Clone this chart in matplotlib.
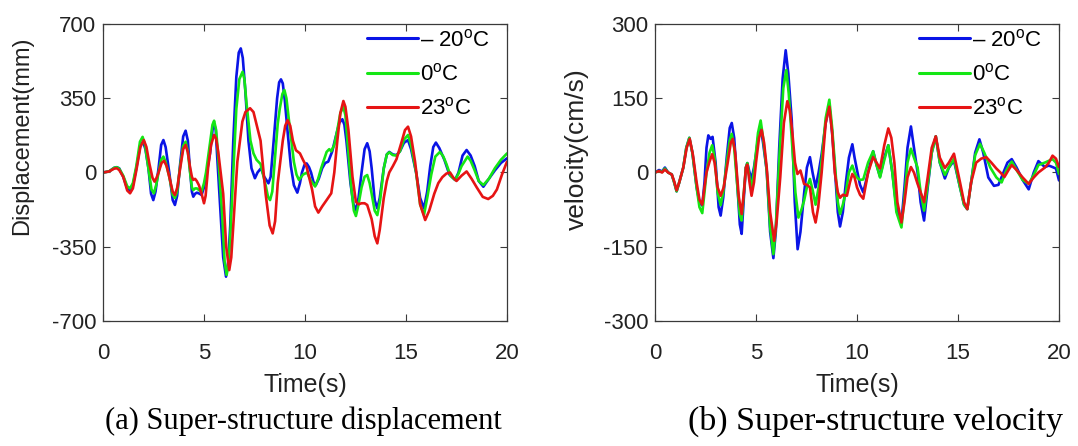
"""
上部结构位移/速度时程对比图 (-20°C / 0°C / 23°C)
"""

import matplotlib
matplotlib.use('Agg')
import matplotlib.pyplot as plt

# ==============================================================================
# 数据（从原图读取的曲线点）
# ==============================================================================

TEMPS = ['\u2013 20$^{\\rm o}$C', '0$^{\\rm o}$C', '23$^{\\rm o}$C']
COLORS = ['#0a14e6', '#14e614', '#e61414']

# --- (a) 位移 (mm) ---
disp_blue = [
    (0, 0), (0.3, 5), (0.55, 22), (0.68, 25), (0.8, 20), (1.0, -20), (1.2, -75), (1.34, -83),
    (1.48, -60), (1.65, 20), (1.85, 130), (1.98, 145), (2.1, 110), (2.25, 20), (2.38, -100),
    (2.49, -130), (2.6, -90), (2.75, 20), (2.88, 130), (2.99, 153), (3.1, 120), (3.28, 0),
    (3.45, -130), (3.56, -153), (3.67, -110), (3.82, 40), (3.97, 170), (4.09, 197), (4.2, 150),
    (4.3, 20), (4.4, -90), (4.47, -114), (4.56, -100), (4.65, -95), (4.78, -100), (4.88, -106),
    (5.0, -70), (5.1, -20), (5.3, 90), (5.42, 200), (5.5, 232), (5.58, 200), (5.65, 80),
    (5.8, -161), (5.95, -400), (6.09, -491), (6.2, -420), (6.3, -250), (6.45, 150), (6.6, 450),
    (6.72, 565), (6.82, 585), (6.92, 540), (7.05, 380), (7.2, 150), (7.35, 20), (7.52, -27),
    (7.65, 0), (7.82, 20), (7.98, -20), (8.19, -51), (8.3, -20), (8.45, 150), (8.62, 350),
    (8.72, 425), (8.81, 439), (8.9, 420), (9.0, 340), (9.15, 180), (9.3, 30), (9.45, -60),
    (9.62, -95), (9.75, -50), (9.85, 0), (9.97, 35), (10.08, 43), (10.2, 25), (10.3, 0),
    (10.42, -45), (10.54, -59), (10.68, -30), (10.85, 20), (11.0, 45), (11.15, 51), (11.35, 100),
    (11.5, 160), (11.7, 235), (11.85, 251), (11.95, 225), (12.05, 150), (12.25, -50),
    (12.4, -150), (12.52, -177), (12.65, -120), (12.8, 0), (12.95, 110), (13.08, 138),
    (13.2, 100), (13.3, 20), (13.45, -130), (13.58, -169), (13.7, -120), (13.9, 20), (14.05, 85),
    (14.17, 97), (14.35, 85), (14.53, 82), (14.7, 100), (14.9, 140), (15.1, 153), (15.25, 110),
    (15.5, 0), (15.7, -120), (15.89, -169), (16.05, -90), (16.2, 30), (16.35, 120), (16.48, 141),
    (16.65, 115), (16.9, 60), (17.15, -10), (17.43, -35), (17.6, 0), (17.8, 80), (18.0, 106),
    (18.2, 80), (18.4, 30), (18.6, -40), (18.83, -67), (19.1, -30), (19.4, 10), (19.7, 45),
    (20.0, 67)]

disp_green = [
    (0, 0), (0.3, 5), (0.55, 22), (0.68, 25), (0.8, 18), (1.0, -15), (1.2, -65), (1.34, -75),
    (1.48, -50), (1.65, 30), (1.83, 145), (1.96, 168), (2.08, 130), (2.25, 20), (2.4, -80),
    (2.52, -98), (2.63, -60), (2.75, 0), (2.88, 60), (2.99, 75), (3.1, 50), (3.28, -20),
    (3.45, -105), (3.56, -120), (3.67, -90), (3.82, 30), (3.97, 125), (4.09, 145), (4.2, 100),
    (4.3, 10), (4.4, -70), (4.47, -83), (4.56, -75), (4.65, -75), (4.78, -85), (4.88, -90),
    (5.0, -50), (5.1, 0), (5.3, 140), (5.42, 225), (5.5, 244), (5.6, 200), (5.7, 80),
    (5.9, -200), (6.02, -420), (6.12, -483), (6.22, -430), (6.3, -300), (6.45, 0), (6.6, 300),
    (6.75, 440), (6.91, 475), (7.0, 440), (7.1, 330), (7.3, 150), (7.45, 90), (7.6, 60),
    (7.8, 40), (8.05, -60), (8.17, -115), (8.27, -130), (8.38, -90), (8.5, 50), (8.65, 230),
    (8.75, 300), (8.88, 370), (8.98, 389), (9.08, 350), (9.2, 250), (9.45, 50), (9.58, -10),
    (9.7, -35), (9.9, -10), (10.1, 0), (10.3, -40), (10.5, -66), (10.65, -30), (10.8, 20),
    (11.07, 97), (11.2, 110), (11.3, 100), (11.45, 130), (11.6, 200), (11.75, 280), (11.9, 310),
    (12.0, 270), (12.1, 150), (12.3, -80), (12.42, -180), (12.52, -205), (12.65, -150),
    (12.8, -70), (12.95, -20), (13.08, -12), (13.2, -50), (13.3, -100), (13.45, -180),
    (13.58, -201), (13.72, -130), (13.9, 20), (14.05, 85), (14.17, 95), (14.35, 82), (14.53, 80),
    (14.7, 100), (14.9, 155), (15.1, 177), (15.25, 130), (15.5, 0), (15.7, -150), (15.89, -200),
    (16.05, -120), (16.25, -10), (16.45, 75), (16.68, 97), (16.85, 75), (17.0, 40), (17.2, -15),
    (17.43, -35), (17.6, -5), (17.75, 30), (18.05, 75), (18.2, 55), (18.4, 10), (18.6, -40),
    (18.83, -59), (19.1, -30), (19.4, 20), (19.7, 60), (20.0, 90)]

disp_red = [
    (0, 0), (0.3, 5), (0.55, 18), (0.68, 20), (0.8, 12), (1.0, -20), (1.2, -85), (1.34, -98),
    (1.48, -75), (1.65, 10), (1.85, 120), (2.02, 153), (2.15, 120), (2.3, 40), (2.45, -25),
    (2.55, -43), (2.65, -25), (2.75, 0), (2.9, 45), (3.02, 55), (3.15, 30), (3.28, -20),
    (3.45, -90), (3.56, -106), (3.68, -70), (3.82, 20), (3.97, 110), (4.09, 130), (4.2, 95),
    (4.3, 30), (4.4, -20), (4.47, -35), (4.56, -30), (4.64, -40), (4.75, -60), (4.88, -100),
    (5.0, -145), (5.08, -110), (5.2, 20), (5.35, 130), (5.5, 177), (5.6, 160), (5.7, 100),
    (5.95, -100), (6.1, -350), (6.25, -460), (6.35, -400), (6.45, -250), (6.65, 50), (6.9, 240),
    (7.05, 285), (7.28, 303), (7.45, 285), (7.6, 227), (7.8, 150), (8.05, -100), (8.25, -250),
    (8.4, -287), (8.52, -230), (8.65, -50), (8.9, 150), (9.02, 220), (9.14, 247), (9.27, 220),
    (9.4, 150), (9.55, 105), (9.75, 90), (9.9, 60), (10.08, 26), (10.35, -80), (10.5, -160),
    (10.66, -189), (10.85, -160), (11.07, -130), (11.3, -98), (11.45, 0), (11.6, 150),
    (11.75, 280), (11.9, 337), (12.0, 310), (12.15, 200), (12.35, -20), (12.52, -138),
    (12.65, -150), (12.8, -145), (12.95, -145), (13.08, -153), (13.3, -220), (13.45, -300),
    (13.58, -334), (13.7, -270), (13.9, -120), (14.05, -40), (14.17, 0), (14.35, 30),
    (14.53, 63), (14.8, 150), (14.95, 200), (15.1, 216), (15.25, 170), (15.45, 50),
    (15.7, -150), (15.95, -224), (16.15, -180), (16.4, -100), (16.6, -50), (16.8, -22),
    (17.0, -5), (17.18, 0), (17.35, -25), (17.5, -40), (17.75, -15), (18.0, 5), (18.25, -30),
    (18.5, -70), (18.8, -115), (19.07, -125), (19.3, -110), (19.5, -80), (19.75, -10),
    (20.0, 51)]

# --- (b) 速度 (cm/s) ---
vel_blue = [
    (0, 0), (0.2, 5), (0.35, 2), (0.49, 10), (0.65, 0), (0.83, -4), (0.95, -20), (1.07, -38),
    (1.2, -20), (1.4, 10), (1.55, 50), (1.7, 70), (1.85, 40), (2.06, -30), (2.2, -60),
    (2.34, -67), (2.45, -20), (2.55, 50), (2.64, 75), (2.75, 68), (2.85, 72), (3.0, 20),
    (3.15, -70), (3.25, -87), (3.38, -50), (3.55, 30), (3.7, 90), (3.8, 100), (3.92, 70),
    (4.1, -40), (4.2, -105), (4.29, -124), (4.4, -50), (4.5, 10), (4.57, 19), (4.68, 0),
    (4.78, -13), (4.9, 10), (5.0, 37), (5.12, 75), (5.23, 92), (5.35, 60), (5.53, 4),
    (5.7, -120), (5.86, -173), (5.98, -120), (6.15, 50), (6.32, 190), (6.47, 247), (6.6, 200),
    (6.77, 105), (6.92, -60), (7.06, -155), (7.2, -120), (7.38, -43), (7.52, 10), (7.67, 31),
    (7.8, 0), (7.95, -30), (8.1, 0), (8.25, 37), (8.45, 100), (8.63, 136), (8.77, 80),
    (8.9, 10), (9.05, -80), (9.16, -109), (9.3, -80), (9.45, -20), (9.6, 30), (9.77, 57),
    (9.88, 30), (10.0, 5), (10.15, -25), (10.31, -40), (10.55, 0), (10.8, 43), (10.97, 15),
    (11.14, -8), (11.35, 30), (11.55, 55), (11.75, 0), (11.95, -70), (12.2, -101), (12.35, -30),
    (12.5, 50), (12.67, 93), (12.82, 50), (13.0, 0), (13.15, -60), (13.32, -97), (13.5, -30),
    (13.7, 40), (13.9, 73), (14.1, 20), (14.35, -12), (14.55, 10), (14.8, 24), (15.1, -30),
    (15.3, -65), (15.46, -74), (15.65, -20), (15.85, 40), (16.06, 67), (16.25, 40), (16.5, -10),
    (16.78, -27), (17.0, -25), (17.2, -5), (17.45, 20), (17.66, 27), (17.9, 10), (18.2, -15),
    (18.5, -34), (18.75, 0), (18.98, 23), (19.3, 11), (19.5, 14), (19.68, 11), (19.85, 8),
    (20.0, -16)]

vel_green = [
    (0, 0), (0.2, 3), (0.35, 1), (0.49, 8), (0.65, 0), (0.83, -4), (0.95, -20), (1.07, -38),
    (1.2, -20), (1.4, 10), (1.55, 50), (1.7, 70), (1.85, 40), (2.06, -30), (2.2, -70),
    (2.34, -82), (2.45, -40), (2.55, 0), (2.7, 40), (2.83, 55), (2.95, 30), (3.1, -40),
    (3.25, -66), (3.38, -40), (3.55, 20), (3.7, 65), (3.8, 78), (3.92, 50), (4.1, -40),
    (4.2, -85), (4.29, -97), (4.4, -40), (4.5, 10), (4.57, 19), (4.68, -10), (4.78, -34),
    (4.92, 10), (5.1, 80), (5.23, 105), (5.35, 70), (5.53, 4), (5.7, -110), (5.86, -165),
    (5.98, -110), (6.17, 40), (6.35, 170), (6.5, 207), (6.62, 160), (6.8, 50), (6.95, -40),
    (7.1, -91), (7.25, -75), (7.38, -57), (7.52, -30), (7.67, -13), (7.8, -35), (7.95, -65),
    (8.1, -30), (8.25, 24), (8.45, 110), (8.63, 147), (8.77, 90), (8.9, 20), (9.05, -60),
    (9.16, -84), (9.3, -65), (9.45, -40), (9.6, 0), (9.77, 14), (9.88, 0), (10.0, -10),
    (10.15, -15), (10.31, -14), (10.55, 20), (10.8, 43), (10.97, 15), (11.14, -10), (11.35, 25),
    (11.55, 55), (11.75, 0), (11.95, -80), (12.2, -111), (12.35, -50), (12.5, 20), (12.67, 48),
    (12.82, 30), (13.0, 10), (13.15, -40), (13.32, -77), (13.5, -25), (13.7, 40), (13.9, 73),
    (14.1, 20), (14.35, -5), (14.55, 10), (14.8, 28), (15.1, -30), (15.3, -65), (15.46, -74),
    (15.65, -20), (15.85, 35), (16.09, 58), (16.3, 40), (16.6, 10), (16.9, -10), (17.16, -20),
    (17.4, 5), (17.66, 22), (17.9, 5), (18.2, -15), (18.5, -23), (18.75, -5), (18.98, 15),
    (19.3, 20), (19.68, 27), (19.85, 20), (20.0, -3)]

vel_red = [
    (0, 0), (0.2, 3), (0.35, 0), (0.49, 6), (0.65, 0), (0.83, -4), (0.95, -18), (1.07, -36),
    (1.2, -20), (1.4, 10), (1.57, 50), (1.72, 68), (1.88, 35), (2.06, -20), (2.2, -55),
    (2.34, -65), (2.45, -30), (2.55, 0), (2.7, 22), (2.83, 37), (2.95, 20), (3.1, -30),
    (3.25, -47), (3.4, -30), (3.6, 20), (3.75, 60), (3.85, 68), (3.97, 40), (4.15, -50),
    (4.29, -84), (4.4, -40), (4.5, 10), (4.57, 16), (4.68, -20), (4.78, -47), (4.9, -20),
    (5.0, 20), (5.15, 70), (5.28, 86), (5.4, 60), (5.53, 10), (5.7, -80), (5.9, -138),
    (6.02, -100), (6.2, -10), (6.38, 100), (6.55, 144), (6.68, 125), (6.8, 80), (6.93, 20),
    (7.05, -3), (7.2, 4), (7.38, -23), (7.52, -25), (7.67, -30), (7.82, -80), (7.95, -101),
    (8.08, -70), (8.25, 0), (8.45, 100), (8.63, 133), (8.77, 80), (8.9, 0), (9.05, -40),
    (9.16, -51), (9.3, -45), (9.5, -47), (9.65, -20), (9.77, -3), (9.88, -10), (10.0, -30),
    (10.15, -45), (10.31, -53), (10.55, 0), (10.8, 31), (10.97, 20), (11.14, 8), (11.35, 55),
    (11.55, 89), (11.7, 70), (11.85, 20), (12.0, -60), (12.2, -101), (12.35, -60), (12.5, -10),
    (12.67, 11), (12.82, 0), (13.0, -23), (13.15, -40), (13.32, -60), (13.5, -10), (13.7, 50),
    (13.9, 73), (14.1, 30), (14.35, 9), (14.55, 20), (14.8, 38), (15.1, -20), (15.3, -60),
    (15.46, -74), (15.65, -20), (15.9, 20), (16.15, 28), (16.4, 31), (16.65, 20), (16.9, 8),
    (17.1, 0), (17.3, -9), (17.5, 5), (17.66, 15), (17.9, 5), (18.2, -10), (18.5, -23),
    (18.75, -10), (18.98, 0), (19.3, 10), (19.5, 20), (19.68, 34), (19.85, 28), (20.0, 11)]

DISP_YTICKS = [-700, -350, 0, 350, 700]
VEL_YTICKS = [-300, -150, 0, 150, 300]
XTICKS = [0, 5, 10, 15, 20]

# ==============================================================================
# 绘图参数
# ==============================================================================
FIG_W, FIG_H, DPI = 10.78, 4.46, 100
LINE_W = 1.9
TICK_FS = 16
LEGEND_FS = 16
XLABEL_FS = 18
AX_COLOR = '#3a3a3a'


def setup_plot_style():
    matplotlib.rcParams['font.family'] = ['Liberation Sans', 'DejaVu Sans']
    matplotlib.rcParams['mathtext.fontset'] = 'custom'
    matplotlib.rcParams['mathtext.rm'] = 'Liberation Sans'
    matplotlib.rcParams['axes.linewidth'] = 0.9
    matplotlib.rcParams['axes.unicode_minus'] = False


def draw_panel(ax, series, yticks, ylabel, ylabel_fs, ylabel_xy):
    for pts, color, label in zip(series, COLORS, TEMPS):
        t = [p[0] for p in pts]
        v = [p[1] for p in pts]
        ax.plot(t, v, color=color, lw=LINE_W, label=label,
                solid_joinstyle='round', solid_capstyle='round')

    ax.set_xlim(0, 20)
    ax.set_ylim(yticks[0], yticks[-1])
    ax.set_xticks(XTICKS)
    ax.set_yticks(yticks)

    for spine in ax.spines.values():
        spine.set_color(AX_COLOR)

    ax.tick_params(axis='both', direction='in', top=True, right=True,
                   length=5, width=0.8, color=AX_COLOR, labelsize=TICK_FS,
                   labelcolor='#222222', pad=5)
    ax.tick_params(axis='x', pad=16)
    ax.set_xlabel('Time(s)', fontsize=XLABEL_FS, color='#222222', labelpad=6)
    ax.set_ylabel(ylabel, fontsize=ylabel_fs, color='#222222')
    ax.yaxis.set_label_coords(*ylabel_xy)

    leg = ax.legend(loc='upper right', frameon=False, fontsize=LEGEND_FS,
                    handlelength=2.3, handletextpad=0.1, labelspacing=0.55,
                    borderaxespad=0.1, bbox_to_anchor=(0.985, 1.02))
    for line in leg.get_lines():
        line.set_linewidth(2.2)


def main():
    setup_plot_style()
    fig = plt.figure(figsize=(FIG_W, FIG_H), dpi=DPI)

    ax1 = fig.add_axes([103 / 1078, 1 - 321 / 446, 404 / 1078, 297 / 446])
    ax2 = fig.add_axes([655 / 1078, 1 - 321 / 446, 404 / 1078, 297 / 446])

    draw_panel(ax1, [disp_blue, disp_green, disp_red], DISP_YTICKS,
               'Displacement(mm)', 17, (-0.173, 0.625))
    draw_panel(ax2, [vel_blue, vel_green, vel_red], VEL_YTICKS,
               'velocity(cm/s)', 19, (-0.163, 0.58))

    fig.text(303 / 1078, 1 - 421 / 446, '(a) Super-structure displacement',
             family='Liberation Serif', fontsize=22, ha='center', va='center')
    fig.text(875 / 1078, 1 - 421 / 446, '(b) Super-structure velocity',
             family='Liberation Serif', fontsize=24.5, ha='center', va='center')

    fig.savefig('out.png', dpi=DPI)
    plt.close(fig)


if __name__ == '__main__':
    main()
